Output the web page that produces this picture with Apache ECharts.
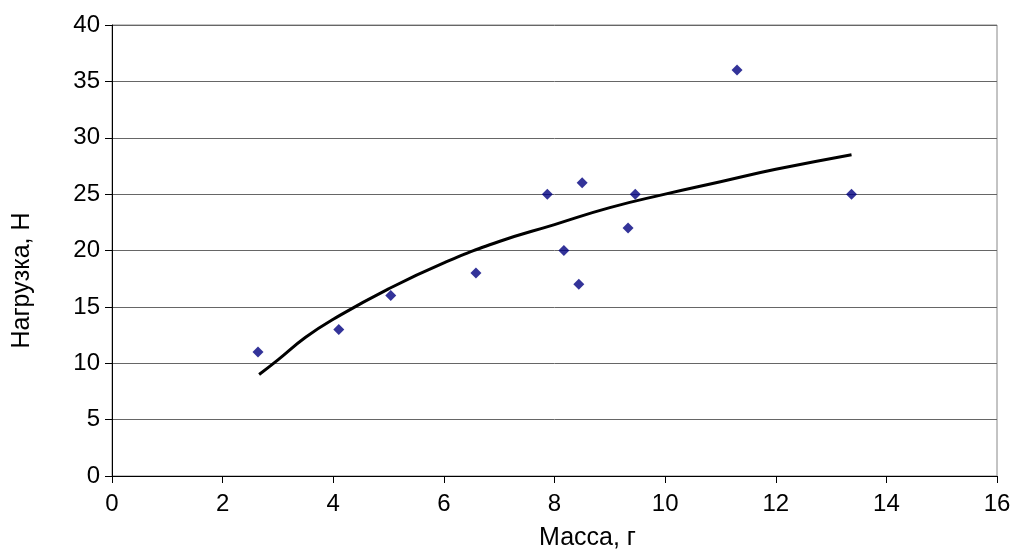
<!DOCTYPE html>
<html>
<head>
<meta charset="utf-8">
<script src="https://cdn.jsdelivr.net/npm/echarts@6/dist/echarts.min.js"></script>
<style>
  html, body { margin: 0; padding: 0; background: #fff; }
  #chart { width: 1013px; height: 551px; }
</style>
</head>
<body>
<div id="chart"></div>
<script>
// measured points
const massX = [2.64, 4.10, 5.04, 6.58, 7.87, 8.17, 8.44, 8.50, 9.33, 9.46, 11.30, 13.37]
const loadY = [11, 13, 16, 18, 25, 20, 17, 26, 22, 25, 36, 25]
// trend curve
const trendX = [2.66, 3, 3.5, 4, 5, 6, 7, 8, 9, 10, 11, 12, 13.37]
const trendY = [9.0, 10.3, 12.3, 13.9, 16.6, 18.9, 20.8, 22.3, 23.8, 25.0, 26.1, 27.2, 28.5]

const font = 'Liberation Sans, Arial, sans-serif'

let chart = echarts.init(document.getElementById('chart'))
chart.setOption({
  animation: false,
  grid: {
    left: 112,
    right: 16,
    top: 25,
    bottom: 75,
    outerBoundsMode: 'none',
    containLabel: false,
    show: true,
    borderColor: '#888',
    borderWidth: 1
  },
  xAxis: {
    type: 'value',
    min: 0,
    max: 16,
    interval: 2,
    name: 'Масса, г',
    nameLocation: 'middle',
    nameGap: 50,
    // label sits a bit right of the plot centre in the original
    nameTextStyle: { fontFamily: font, fontSize: 25, color: '#000', padding: [0, 0, 0, 66] },
    axisLine: { show: true, onZero: false, lineStyle: { color: '#000', width: 1 } },
    axisTick: { show: true, length: 7, lineStyle: { color: '#000' } },
    axisLabel: { fontFamily: font, fontSize: 24, color: '#000', margin: 16 },
    splitLine: { show: false }
  },
  yAxis: {
    type: 'value',
    min: 0,
    max: 40,
    interval: 5,
    name: 'Нагрузка, Н',
    nameLocation: 'middle',
    nameGap: 77,
    nameTextStyle: { fontFamily: font, fontSize: 25, color: '#000', padding: [0, 60, 0, 0] },
    axisLine: { show: true, lineStyle: { color: '#000', width: 1 } },
    axisTick: { show: true, length: 7, lineStyle: { color: '#000' } },
    axisLabel: { fontFamily: font, fontSize: 24, color: '#000', margin: 12 },
    splitLine: { show: true, lineStyle: { color: '#666', width: 1 } }
  },
  series: [
    {
      name: 'trend',
      type: 'line',
      data: trendX.map((x, i) => [x, trendY[i]]),
      smooth: true,
      showSymbol: false,
      lineStyle: { color: '#000', width: 3 },
      z: 2
    },
    {
      name: 'data',
      type: 'scatter',
      data: massX.map((x, i) => [x, loadY[i]]),
      symbol: 'diamond',
      symbolSize: [11, 11],
      itemStyle: { color: '#000080' },
      z: 3
    }
  ]
})
</script>
</body>
</html>
